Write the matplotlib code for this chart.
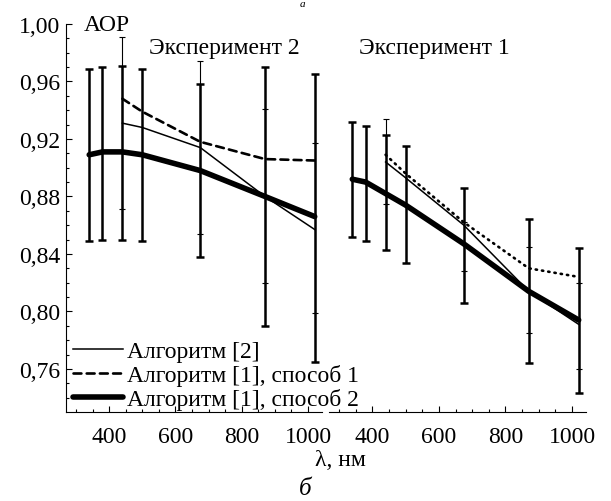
import numpy as np
import matplotlib
matplotlib.use('Agg')
import matplotlib.pyplot as plt

plt.rcParams['font.family'] = ['Liberation Serif', 'DejaVu Serif']

# wavelengths, nm
wl = [340, 380, 440, 500, 675, 870, 1020]
wl2 = [440, 500, 675, 870, 1020]
wl_err2 = [440, 675, 870, 1020]

# Experiment 2 (left panel)
e2_method2 = [0.909, 0.911, 0.911, 0.909, 0.898, 0.880, 0.866]
e2_lo = [0.849, 0.850, 0.850, 0.849, 0.838, 0.790, 0.765]
e2_hi = [0.969, 0.970, 0.971, 0.969, 0.958, 0.970, 0.965]
e2_method1 = [0.948, 0.939, 0.918, 0.906, 0.905]
e2_alg2 = [0.931, 0.928, 0.914, 0.880, 0.857]
e2_alg2_val = [0.931, 0.914, 0.880, 0.857]
e2_alg2_lo = [0.871, 0.854, 0.820, 0.799]
e2_alg2_hi = [0.991, 0.974, 0.941, 0.917]

# Experiment 1 (right panel)
e1_method2 = [0.892, 0.890, 0.882, 0.874, 0.847, 0.814, 0.794]
e1_lo = [0.852, 0.849, 0.843, 0.834, 0.806, 0.764, 0.743]
e1_hi = [0.932, 0.929, 0.923, 0.915, 0.886, 0.864, 0.844]
e1_method1 = [0.909, 0.896, 0.862, 0.830, 0.824]
e1_alg2 = [0.904, 0.893, 0.860, 0.814, 0.791]
e1_alg2_val = [0.904, 0.845, 0.815, 0.790]
e1_alg2_lo = [0.875, 0.828, 0.785, 0.760]
e1_alg2_hi = [0.934, 0.862, 0.845, 0.820]

yticks = [0.76, 0.80, 0.84, 0.88, 0.92, 0.96, 1.00]
ytick_labels = ['0,76', '0,80', '0,84', '0,88', '0,92', '0,96', '1,00']
xticks = [400, 600, 800, 1000]
xtick_labels = ['400', '600', '800', '1000']

FS = 17

fig = plt.figure(figsize=(6.11, 5.02), dpi=100)
ax1 = fig.add_axes([66 / 611, 1 - 413 / 502, 256 / 611, 388 / 502])
ax2 = fig.add_axes([329 / 611, 1 - 413 / 502, 257 / 611, 388 / 502], sharey=ax1)
ax2.patch.set_alpha(0)


def panel(ax, m2, lo, hi, m1, alg, alg_v, alg_lo, alg_hi, dash):
    m2 = np.array(m2)
    alg_v = np.array(alg_v)
    ax.errorbar(wl_err2, alg_v, yerr=[alg_v - np.array(alg_lo), np.array(alg_hi) - alg_v],
                fmt='none', ecolor='k', elinewidth=0.8, capsize=2.5, capthick=0.8, zorder=2)
    ax.errorbar(wl, m2, yerr=[m2 - np.array(lo), np.array(hi) - m2],
                fmt='none', ecolor='k', elinewidth=1.8, capsize=3.2, capthick=1.8, zorder=3)
    ax.plot(wl2, alg, color='k', lw=1.1, zorder=4, label='Алгоритм [2]')
    ax.plot(wl2, m1, color='k', lw=1.9, linestyle=dash, zorder=4,
            dash_capstyle='round', label='Алгоритм [1], способ 1')
    ax.plot(wl, m2, color='k', lw=4, zorder=5, solid_capstyle='round',
            label='Алгоритм [1], способ 2')
    ax.set_xlim(270, 1042)
    ax.set_xticks(xticks)
    ax.set_xticklabels(xtick_labels)
    ax.set_xticks(np.arange(300, 1050, 50), minor=True)
    ax.tick_params(which='both', direction='in', labelsize=FS, width=0.8)
    ax.tick_params(which='major', length=4)
    ax.tick_params(which='minor', length=2.5)
    ax.tick_params(axis='x', pad=10)
    ax.tick_params(axis='y', pad=4)
    ax.spines['top'].set_visible(False)
    ax.spines['right'].set_visible(False)
    ax.spines['bottom'].set_linewidth(0.8)
    ax.spines['left'].set_linewidth(0.8)


panel(ax1, e2_method2, e2_lo, e2_hi, e2_method1, e2_alg2, e2_alg2_val, e2_alg2_lo, e2_alg2_hi,
      (0, (3, 2)))
panel(ax2, e1_method2, e1_lo, e1_hi, e1_method1, e1_alg2, e1_alg2_val, e1_alg2_lo, e1_alg2_hi,
      (0, (0.5, 1.9)))

ax1.set_ylim(0.73, 1.00)
ax1.set_yticks(yticks)
ax1.set_yticklabels(ytick_labels)
ax1.set_yticks(np.arange(0.74, 1.001, 0.01), minor=True)
ax2.spines['left'].set_visible(False)
ax2.tick_params(axis='y', which='both', left=False, labelleft=False)

h, l = ax1.get_legend_handles_labels()
leg = ax1.legend(h, l, loc='lower left', bbox_to_anchor=(0.0, -0.013), frameon=False,
                 fontsize=FS, handlelength=2.1, handletextpad=0.2, labelspacing=0.08,
                 borderaxespad=0.1, borderpad=0.2)
leg.set_zorder(10)

ax1.text(0.07, 1.0, 'АОР', transform=ax1.transAxes, fontsize=FS, va='center', ha='left')
ax1.text(0.62, 0.94, 'Эксперимент 2', transform=ax1.transAxes, fontsize=FS, ha='center', va='center')
ax2.text(0.41, 0.94, 'Эксперимент 1', transform=ax2.transAxes, fontsize=FS, ha='center', va='center')

fig.text(340 / 611, 1 - 461 / 502, 'λ, нм', fontsize=FS, ha='center', va='center')
fig.text(305 / 611, 1 - 489 / 502, 'б', fontsize=FS + 1, style='italic', ha='center', va='center')
fig.text(302 / 611, 1.0, 'а', fontsize=8, style='italic', ha='center', va='top')

fig.savefig('out.png', dpi=100)
